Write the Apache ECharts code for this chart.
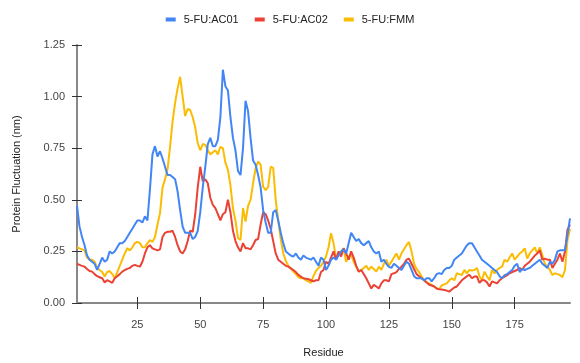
<!DOCTYPE html>
<html>
<head>
<meta charset="utf-8">
<script src="https://cdn.jsdelivr.net/npm/echarts@6/dist/echarts.min.js"></script>
<style>html,body{margin:0;padding:0;background:#fff}#c{width:580px;height:363px}</style>
</head>
<body>
<div id="c"></div>
<script>
const seriesNames = ['5-FU:AC01', '5-FU:AC02', '5-FU:FMM'];
const xTicks = [25, 50, 75, 100, 125, 150, 175];
const yTicks = [0, 0.25, 0.5, 0.75, 1.0, 1.25];

const ac01 = [0.47,0.37,0.32,0.28,0.23,0.21,0.20,0.19,0.16,0.19,0.22,0.20,0.21,0.25,0.24,0.25,0.27,0.29,0.29,0.30,
0.32,0.34,0.36,0.38,0.40,0.40,0.39,0.42,0.40,0.55,0.72,0.76,0.71,0.735,0.70,0.66,0.62,0.62,0.61,0.60,
0.54,0.45,0.37,0.34,0.34,0.34,0.31,0.32,0.35,0.44,0.56,0.66,0.77,0.80,0.76,0.76,0.79,0.90,1.13,1.05,
1.03,0.90,0.80,0.74,0.64,0.62,0.75,0.98,0.93,0.80,0.69,0.67,0.62,0.56,0.45,0.39,0.34,0.34,0.44,0.45,
0.40,0.34,0.29,0.25,0.24,0.23,0.225,0.24,0.22,0.21,0.23,0.22,0.215,0.21,0.22,0.20,0.18,0.22,0.21,0.16,
0.18,0.21,0.22,0.21,0.23,0.25,0.26,0.24,0.29,0.34,0.32,0.30,0.31,0.29,0.28,0.29,0.30,0.27,0.25,0.24,
0.25,0.20,0.21,0.19,0.175,0.17,0.19,0.18,0.17,0.16,0.18,0.20,0.19,0.16,0.13,0.12,0.12,0.12,0.11,0.12,
0.12,0.105,0.12,0.14,0.145,0.14,0.16,0.17,0.17,0.18,0.21,0.22,0.23,0.24,0.26,0.28,0.29,0.29,0.27,0.25,
0.23,0.21,0.20,0.19,0.18,0.17,0.16,0.15,0.13,0.12,0.135,0.14,0.15,0.16,0.18,0.19,0.15,0.165,0.16,0.165,
0.17,0.18,0.19,0.20,0.21,0.19,0.18,0.17,0.20,0.19,0.21,0.25,0.255,0.255,0.255,0.33,0.41];

const ac02 = [0.19,0.185,0.18,0.176,0.165,0.155,0.152,0.14,0.13,0.125,0.12,0.10,0.11,0.105,0.098,0.12,0.13,0.14,0.152,0.16,
0.165,0.17,0.18,0.185,0.18,0.176,0.20,0.24,0.27,0.28,0.265,0.26,0.255,0.26,0.32,0.34,0.345,0.345,0.35,0.32,
0.28,0.25,0.24,0.26,0.30,0.35,0.345,0.43,0.56,0.66,0.59,0.60,0.58,0.51,0.475,0.46,0.43,0.40,0.43,0.44,
0.50,0.44,0.35,0.30,0.27,0.25,0.29,0.265,0.265,0.26,0.28,0.305,0.31,0.38,0.44,0.43,0.40,0.36,0.30,0.24,
0.21,0.20,0.19,0.18,0.176,0.168,0.16,0.15,0.136,0.128,0.12,0.118,0.115,0.11,0.105,0.11,0.11,0.15,0.16,0.20,
0.19,0.22,0.25,0.21,0.25,0.225,0.265,0.24,0.21,0.25,0.22,0.18,0.152,0.16,0.14,0.12,0.095,0.07,0.088,0.08,
0.07,0.095,0.11,0.11,0.105,0.14,0.144,0.15,0.165,0.176,0.19,0.21,0.215,0.19,0.165,0.14,0.13,0.12,0.11,0.10,
0.088,0.085,0.08,0.07,0.066,0.065,0.063,0.06,0.055,0.065,0.075,0.08,0.095,0.11,0.12,0.13,0.136,0.12,0.128,0.128,
0.098,0.11,0.11,0.10,0.08,0.105,0.10,0.095,0.11,0.12,0.128,0.135,0.144,0.15,0.155,0.16,0.17,0.16,0.18,0.19,
0.20,0.215,0.23,0.24,0.255,0.21,0.215,0.21,0.21,0.17,0.19,0.21,0.24,0.20,0.25,0.355,0.38];

const fmm = [0.27,0.265,0.26,0.255,0.22,0.21,0.21,0.20,0.17,0.16,0.15,0.128,0.15,0.155,0.14,0.12,0.15,0.18,0.21,0.24,
0.265,0.255,0.27,0.29,0.296,0.29,0.27,0.27,0.29,0.305,0.296,0.32,0.38,0.435,0.56,0.60,0.65,0.757,0.88,0.97,
1.04,1.096,1.00,0.906,0.94,0.935,0.90,0.85,0.774,0.74,0.77,0.766,0.74,0.72,0.73,0.74,0.72,0.757,0.75,0.68,
0.645,0.57,0.46,0.40,0.315,0.305,0.46,0.394,0.47,0.50,0.58,0.653,0.685,0.67,0.563,0.547,0.563,0.66,0.655,0.50,
0.40,0.31,0.24,0.205,0.18,0.168,0.152,0.14,0.125,0.12,0.12,0.11,0.105,0.098,0.13,0.155,0.17,0.18,0.20,0.225,
0.27,0.338,0.29,0.215,0.24,0.25,0.265,0.20,0.225,0.232,0.20,0.176,0.152,0.16,0.17,0.18,0.16,0.176,0.165,0.152,
0.176,0.16,0.19,0.21,0.18,0.20,0.22,0.24,0.21,0.24,0.26,0.28,0.296,0.25,0.19,0.165,0.15,0.128,0.11,0.10,
0.095,0.088,0.08,0.07,0.068,0.085,0.09,0.095,0.11,0.12,0.11,0.144,0.14,0.136,0.16,0.144,0.16,0.158,0.16,0.17,
0.13,0.11,0.152,0.13,0.11,0.16,0.144,0.16,0.17,0.176,0.21,0.20,0.22,0.24,0.21,0.225,0.24,0.25,0.265,0.215,
0.24,0.255,0.27,0.24,0.27,0.232,0.19,0.176,0.16,0.136,0.144,0.14,0.136,0.125,0.16,0.305,0.36];

const colors = ['#4285f4', '#ea4335', '#fbbc04'];
const toPairs = arr => arr.map((v, i) => [i + 1, v]);
const xMin = 1, xMax = ac01.length;
const font = 'Arial, "Liberation Sans", sans-serif';

const chart = echarts.init(document.getElementById('c'), null, {renderer: 'canvas'});
chart.setOption({
  animation: false,
  color: colors,
  legend: {
    top: 9, left: 'center',
    itemWidth: 10, itemHeight: 4, itemGap: 16,
    icon: 'rect',
    textStyle: {fontFamily: font, fontSize: 11, color: '#222', padding: [0, 0, 0, 3]},
    data: seriesNames
  },
  grid: {left: 77, right: 10, top: 45, bottom: 60, containLabel: false},
  xAxis: [{
    type: 'value', min: xMin, max: xMax,
    name: 'Residue', nameLocation: 'middle', nameGap: 44,
    nameTextStyle: {fontFamily: font, fontSize: 11, color: '#222'},
    axisLine: {show: true, lineStyle: {color: '#888', width: 2}},
    axisTick: {show: true, length: 6, customValues: xTicks, lineStyle: {color: '#333', width: 1}},
    axisLabel: {customValues: xTicks, fontFamily: font, fontSize: 11, color: '#444', margin: 16},
    splitLine: {show: false}
  }, {
    type: 'value', min: xMin, max: xMax, position: 'bottom',
    axisLine: {show: false},
    axisTick: {show: true, inside: true, length: 6, customValues: xTicks, lineStyle: {color: '#333', width: 1}},
    axisLabel: {show: false},
    splitLine: {show: false}
  }],
  yAxis: [{
    type: 'value', min: 0, max: 1.25, interval: 0.25,
    name: 'Protein Fluctuation (nm)', nameLocation: 'middle', nameGap: 55,
    nameTextStyle: {fontFamily: font, fontSize: 11, color: '#222'},
    axisLine: {show: true, lineStyle: {color: '#888', width: 2}},
    axisTick: {show: true, length: 5, lineStyle: {color: '#333', width: 1}},
    axisLabel: {fontFamily: font, fontSize: 11, color: '#444', margin: 12,
      formatter: v => v.toFixed(2)},
    splitLine: {show: false}
  }, {
    type: 'value', min: 0, max: 1.25, interval: 0.25, position: 'left',
    axisLine: {show: false},
    axisTick: {show: true, inside: true, length: 5, lineStyle: {color: '#333', width: 1}},
    axisLabel: {show: false},
    splitLine: {show: false}
  }],
  series: [ac01, ac02, fmm].map((arr, i) => ({
    name: seriesNames[i], type: 'line', data: toPairs(arr),
    showSymbol: false, symbol: 'none',
    lineStyle: {width: 2, color: colors[i]},
    itemStyle: {color: colors[i]},
    z: 3 - i
  }))
});
</script>
</body>
</html>
